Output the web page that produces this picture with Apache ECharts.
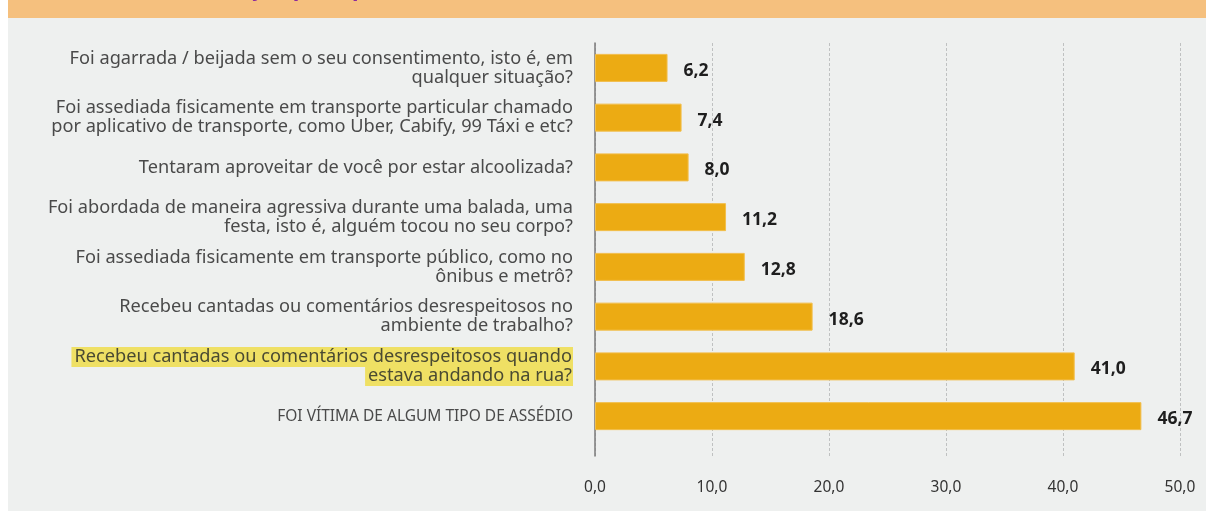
<!DOCTYPE html>
<html>
<head>
<meta charset="utf-8">
<script src="https://cdn.jsdelivr.net/npm/echarts@6/dist/echarts.min.js"></script>
<style>
  html, body { margin: 0; padding: 0; background: #fff; }
  #main { width: 1206px; height: 511px; }
</style>
</head>
<body>
<div id="main"></div>
<script>
// categories top to bottom
var categories = [
    'Foi agarrada / beijada sem o seu consentimento, isto é, em\nqualquer situação?',
    'Foi assediada fisicamente em transporte particular chamado\npor aplicativo de transporte, como Uber, Cabify, 99 Táxi e etc?',
    'Tentaram aproveitar de você por estar alcoolizada?',
    'Foi abordada de maneira agressiva durante uma balada, uma\nfesta, isto é, alguém tocou no seu corpo?',
    'Foi assediada fisicamente em transporte público, como no\nônibus e metrô?',
    'Recebeu cantadas ou comentários desrespeitosos no\nambiente de trabalho?',
    'Recebeu cantadas ou comentários desrespeitosos quando\nestava andando na rua?',
    'FOI VÍTIMA DE ALGUM TIPO DE ASSÉDIO'
];
var values = [6.2, 7.4, 8.0, 11.2, 12.8, 18.6, 41.0, 46.7];
var highlighted = 'Recebeu cantadas ou comentários desrespeitosos quando\nestava andando na rua?';
var tickMin = 0, tickMax = 50, tickStep = 10;

var font = 'Noto Sans';
function comma(v) { return v.toFixed(1).replace('.', ','); }

var myChart = echarts.init(document.getElementById('main'));

var option = {
    backgroundColor: '#ffffff',
    animation: false,
    graphic: [
        { type: 'rect', shape: { x: 8, y: 0, width: 1198, height: 18 }, style: { fill: '#f5c07e' }, z: -10 },
        { type: 'rect', shape: { x: 8, y: 18, width: 1198, height: 493 }, style: { fill: '#eef0ef' }, z: -10 },
        { type: 'text', left: 193, top: -21, z: -5,
          style: { text: 'Situação por tipo de assédio', fill: '#8b2a9b', font: 'bold 22px "Noto Sans"' } }
    ],
    grid: [
        { left: 595, right: 26, top: 43, bottom: 70 },
        { left: 595, right: 26, top: 43, bottom: 55 }
    ],
    xAxis: [
        { gridIndex: 0, type: 'value', min: tickMin, max: tickMax, interval: tickStep, show: false },
        {
            gridIndex: 1, type: 'value', min: tickMin, max: tickMax, interval: tickStep,
            axisLine: { show: false }, axisTick: { show: false },
            splitLine: { show: true, lineStyle: { color: '#bfc1c1', type: [3, 2], width: 1 } },
            axisLabel: {
                formatter: comma, color: '#333', fontFamily: font, fontSize: 15.5, margin: 24
            }
        }
    ],
    yAxis: [
        {
            gridIndex: 0, type: 'category', data: categories, inverse: true,
            axisLine: { show: false }, axisTick: { show: false },
            axisLabel: {
                margin: 22, color: '#4a4a4a', fontFamily: font, fontSize: 18.2, lineHeight: 19, align: 'right',
                formatter: function (v) {
                    if (v === highlighted) {
                        return v.split('\n').map(function (s) { return '{hl|' + s + '}'; }).join('\n');
                    }
                    if (v === v.toUpperCase()) {
                        return '{caps|' + v + '}';
                    }
                    return v;
                },
                rich: {
                    hl: { backgroundColor: '#efe064', color: '#4a4a32', fontFamily: font, fontSize: 18.2, lineHeight: 19, padding: [1, 1, 1, 3] },
                    caps: { color: '#4a4a4a', fontFamily: font, fontSize: 15.5, lineHeight: 19 }
                }
            }
        },
        {
            gridIndex: 1, type: 'category', data: categories, inverse: true,
            axisLine: { show: true, lineStyle: { color: '#7a7a7a', width: 1.5 } },
            axisTick: { show: false }, axisLabel: { show: false }
        }
    ],
    series: [{
        type: 'bar',
        xAxisIndex: 0, yAxisIndex: 0,
        data: values,
        barWidth: 28,
        itemStyle: { color: '#ecab13', borderColor: '#f2be4a', borderWidth: 1 },
        label: {
            show: true, position: 'right', distance: 16, offset: [0, 3],
            formatter: function (p) { return comma(p.value); },
            color: '#1e1e1e', fontFamily: font, fontWeight: 'bold', fontSize: 17.5
        },
        z: 5
    }]
};

myChart.setOption(option);
</script>
</body>
</html>
